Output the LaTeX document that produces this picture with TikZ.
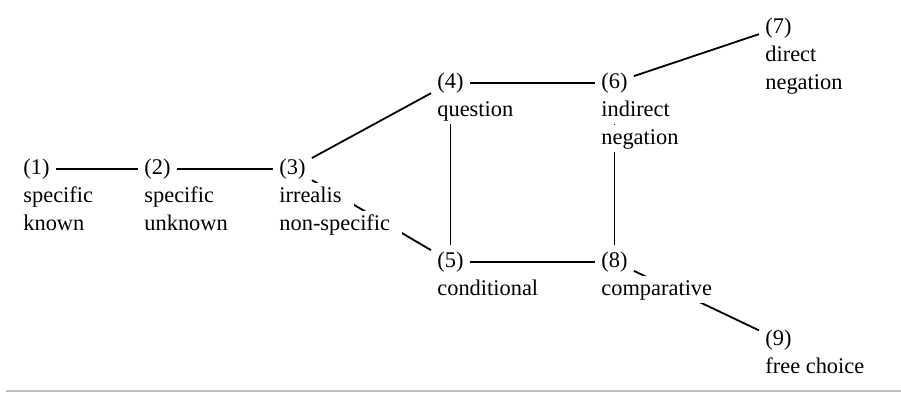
\documentclass[tikz,border=0pt]{standalone}
\usepackage{fontspec}
\setmainfont{Liberation Serif}
\usetikzlibrary{backgrounds}
\setlength{\fboxsep}{1pt}
\newcommand{\wbox}[1]{\colorbox{white}{\rule[-2.8pt]{0pt}{11.4pt}#1\hspace{5pt}}}
\begin{document}
\begin{tikzpicture}[x=0.5pt, y=-0.5pt, font=\fontsize{11.2}{14}\selectfont,
	num/.style={inner sep=3pt, anchor=base west},
	sense/.style={inner sep=2pt, anchor=north west, align=left},
	link/.style={line width=0.9pt}]
	\useasboundingbox (0,0) rectangle (901,392);
	
	% Nummern
	\node[num] (n1) at (17,174) {(1)};
	\node[num] (n2) at (138,174) {(2)};
	\node[num] (n3) at (273,174) {(3)};
	\node[num] (n4) at (431,88) {(4)};
	\node[num] (n5) at (431,267) {(5)};
	\node[num] (n6) at (595,88) {(6)};
	\node[num] (n7) at (759,33) {(7)};
	\node[num] (n8) at (595,267) {(8)};
	\node[num] (n9) at (759,345) {(9)};
	
	% Bedeutungen (unter den Nummern)
	\node[sense] (s1) at ([yshift=-2.4pt]n1.base west) {\wbox{specific}\\\wbox{known}};
	\node[sense] (s2) at ([yshift=-2.4pt]n2.base west) {\wbox{specific}\\\wbox{unknown}};
	\node[sense] (s3) at ([yshift=-2.4pt]n3.base west) {\wbox{irrealis}\\\wbox{non-specific}};
	\node[sense] (s4) at ([yshift=-2.4pt]n4.base west) {\wbox{question}};
	\node[sense] (s5) at ([yshift=-2.4pt]n5.base west) {\wbox{conditional}};
	\node[sense] (s6) at ([yshift=-2.4pt]n6.base west) {\wbox{indirect}\\\wbox{negation}};
	\node[sense] (s7) at ([yshift=-2.4pt]n7.base west) {\wbox{direct}\\\wbox{negation}};
	\node[sense] (s8) at ([yshift=-2.4pt]n8.base west) {\wbox{comparative}};
	\node[sense] (s9) at ([yshift=-2.4pt]n9.base west) {\wbox{free choice}};
	
	% Verbindungen (hinter dem Text)
	\begin{scope}[on background layer]
		\foreach \a/\b in {n1/n2, n2/n3, n3/n4, n3/n5, n4/n6, n6/n7, n4/n5, n6/n8, n5/n8, n8/n9} {
			\draw[link] (\a) -- (\b);
		}
	\end{scope}
	
	% Trennlinie unten
	\draw[black!25, line width=0.6pt] (6,391) -- (901,391);
\end{tikzpicture}
\end{document}
